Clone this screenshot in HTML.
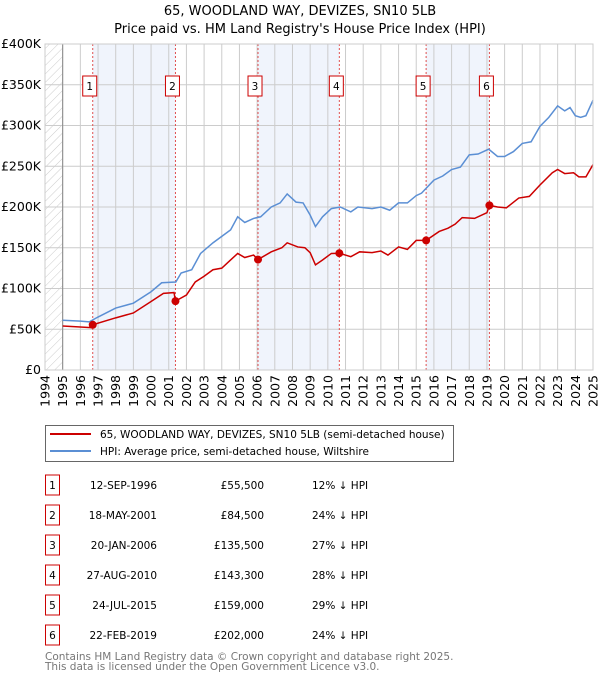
<!DOCTYPE html>
<html><head><meta charset="utf-8"><style>
body{margin:0;background:#fff;font-family:"DejaVu Sans","Liberation Sans",sans-serif;}
svg text{font-family:"DejaVu Sans","Liberation Sans",sans-serif;}
</style></head><body>
<svg id="chart" width="600" height="680" xmlns="http://www.w3.org/2000/svg">
<defs><pattern id="hatch" width="6" height="6" patternUnits="userSpaceOnUse" patternTransform="rotate(45)"><line x1="0" y1="0" x2="0" y2="6" stroke="#ccc" stroke-width="1"/></pattern></defs>
<text x="300" y="15" text-anchor="middle" font-size="13">65, WOODLAND WAY, DEVIZES, SN10 5LB</text>
<text x="300" y="33" text-anchor="middle" font-size="13">Price paid vs. HM Land Registry's House Price Index (HPI)</text>
<g id="plot"></g>
<g>
<rect x="45.5" y="425.5" width="408" height="36" fill="#fff" stroke="#666"/>
<line x1="50" y1="434" x2="91" y2="434" stroke="#cc0000" stroke-width="2"/>
<text x="100" y="438" font-size="10.5">65, WOODLAND WAY, DEVIZES, SN10 5LB (semi-detached house)</text>
<line x1="50" y1="451" x2="91" y2="451" stroke="#5b8fd4" stroke-width="2"/>
<text x="100" y="455" font-size="10.5">HPI: Average price, semi-detached house, Wiltshire</text>
</g>
<g id="table" font-size="10.5"></g>
<text x="45" y="660" font-size="10.5" fill="#777">Contains HM Land Registry data © Crown copyright and database right 2025.</text>
<text x="45" y="670" font-size="10.5" fill="#777">This data is licensed under the Open Government Licence v3.0.</text>
</svg>
<script>
const hpiYears=[1995,1996,1996.5,1997,1998,1999,2000,2000.6,2001.4,2001.7,2002.3,2002.8,2003.5,2004,2004.5,2004.9,2005.3,2005.8,2006.2,2006.8,2007.3,2007.7,2008.2,2008.6,2009.0,2009.3,2009.7,2010.2,2010.7,2011.3,2011.7,2012.5,2013,2013.5,2014,2014.5,2015,2015.3,2016,2016.5,2017,2017.5,2018,2018.5,2019.1,2019.6,2020,2020.5,2021,2021.5,2022,2022.5,2023,2023.4,2023.7,2024,2024.3,2024.6,2025];
const hpiValues=[61,60,59,65,76,82,96,107,108,119,123,143,156,164,172,188,181,186,188,200,205,216,206,205,190,176,188,198,200,194,200,198,200,196,205,205,214,217,233,238,246,249,264,265,271,262,262,268,278,280,299,310,324,318,322,312,310,312,331];
const ppYears=[1995,1996.6,1996.7,1998,1999,2000,2000.7,2001.3,2001.38,2002,2002.5,2003,2003.5,2004,2004.5,2004.9,2005.3,2005.8,2006.05,2006.8,2007.4,2007.7,2008.3,2008.7,2009.0,2009.3,2009.7,2010.2,2010.65,2011.3,2011.8,2012.5,2013,2013.4,2014,2014.5,2015,2015.56,2016.3,2016.8,2017.2,2017.6,2018.3,2019.0,2019.14,2019.6,2020.1,2020.8,2021.4,2022,2022.7,2023,2023.4,2023.9,2024.2,2024.6,2025];
const ppValues=[54,52,55.5,64,70,84,94,95,84.5,92,108,115,123,125,135,143,138,141,135.5,145,150,156,151,150,144,129,135,143,143.3,139,145,144,146,141,151,148,159,159,170,174,179,187,186,193,202,200,199,211,213,227,242,246,241,242,237,237,252];
const saleLabels=["1","2","3","4","5","6"];
const saleYears=[1996.70,2001.38,2006.05,2010.65,2015.56,2019.14];
const saleValues=[55.5,84.5,135.5,143.3,159,202];
const saleDates=["12-SEP-1996","18-MAY-2001","20-JAN-2006","27-AUG-2010","24-JUL-2015","22-FEB-2019"];
const salePrices=["£55,500","£84,500","£135,500","£143,300","£159,000","£202,000"];
const saleDiffs=["12% ↓ HPI","24% ↓ HPI","27% ↓ HPI","28% ↓ HPI","29% ↓ HPI","24% ↓ HPI"];
const yTicks=[0,50,100,150,200,250,300,350,400];
const yTickLabels=["£0","£50K","£100K","£150K","£200K","£250K","£300K","£350K","£400K"];
const xTicks=[1994,1995,1996,1997,1998,1999,2000,2001,2002,2003,2004,2005,2006,2007,2008,2009,2010,2011,2012,2013,2014,2015,2016,2017,2018,2019,2020,2021,2022,2023,2024,2025];

const X0=45,X1=593,Y0=370,Y1=44;
const x=t=>X0+(t-1994)/(2025-1994)*(X1-X0);
const y=v=>Y0-v/400*(Y0-Y1);
const NS="http://www.w3.org/2000/svg";
const plot=document.getElementById('plot');
function mk(tag,attrs,parent){const e=document.createElementNS(NS,tag);for(const k in attrs)e.setAttribute(k,attrs[k]);(parent||plot).appendChild(e);return e;}

for(let i=0;i<saleYears.length;i+=2){
  const r=mk('rect',{x:x(saleYears[i]),y:Y1,width:x(saleYears[i+1])-x(saleYears[i]),height:Y0-Y1,fill:'#f0f4fc'});
  
  
}
const hr=mk('rect',{x:X0,y:Y1,width:x(1995)-X0,height:Y0-Y1,fill:'url(#hatch)'});


yTicks.forEach((v,i)=>{
  const l=mk('line',{x1:X0,x2:X1,y1:y(v),y2:y(v),stroke:'#ccc'});
  
  
  const t=mk('text',{x:X0-4,y:y(v)+4,'text-anchor':'end','font-size':'12.5'});
  t.textContent=yTickLabels[i];
  
  
});
xTicks.forEach(yr=>{
  const l=mk('line',{x1:x(yr),x2:x(yr),y1:Y1,y2:Y0,stroke:'#ccc'});
  
  
  const t=mk('text',{x:0,y:0,'text-anchor':'end','font-size':'12.5',transform:`translate(${x(yr)+4.5},${Y0+5}) rotate(-90)`});
  t.textContent=yr;
  
  
});
mk('line',{x1:x(1995),x2:x(1995),y1:Y1,y2:Y0,stroke:'#888'});
mk('line',{x1:X1,x2:X1,y1:Y1,y2:Y0,stroke:'#888'});
saleYears.forEach((s,i)=>{
  const l=mk('line',{x1:x(s),x2:x(s),y1:Y1,y2:Y0,stroke:'#e05050','stroke-dasharray':'2,2'});
  
  
  const b=mk('rect',{x:x(s)-10,y:76,width:14,height:20,fill:'#fff',stroke:'#cc0000'});
  
  
  const t=mk('text',{x:x(s)-3,y:90,'text-anchor':'middle','font-size':'10.5'});
  t.textContent=saleLabels[i];
  
  
});
const hp=mk('polyline',{points:hpiYears.map((t,i)=>x(t)+','+y(hpiValues[i])).join(' '),fill:'none',stroke:'#5b8fd4','stroke-width':1.5});


const pp=mk('polyline',{points:ppYears.map((t,i)=>x(t)+','+y(ppValues[i])).join(' '),fill:'none',stroke:'#cc0000','stroke-width':1.5});


saleYears.forEach((s,i)=>{
  const c=mk('circle',{cx:x(s),cy:y(saleValues[i]),r:4,fill:'#cc0000'});
  
  
});
mk('rect',{x:X0,y:Y1,width:X1-X0,height:Y0-Y1,fill:'none',stroke:'#ccc'});
const tb=document.getElementById('table');
saleLabels.forEach((lab,i)=>{
  const cy=485+i*30;
  const b=mk('rect',{x:45.5,y:cy-10,width:14,height:20,fill:'#fff',stroke:'#cc0000'},tb);
  
  
  const cols=[[52.5,'middle',lab],[157,'end',saleDates[i]],[264,'end',salePrices[i]],[312,'start',saleDiffs[i]]];
  cols.forEach(([cx,anc,txt],j)=>{
    const t=mk('text',{x:cx,y:cy+4,'text-anchor':anc},tb);
    t.textContent=txt;
    
    
  });
});
</script>
</body></html>
